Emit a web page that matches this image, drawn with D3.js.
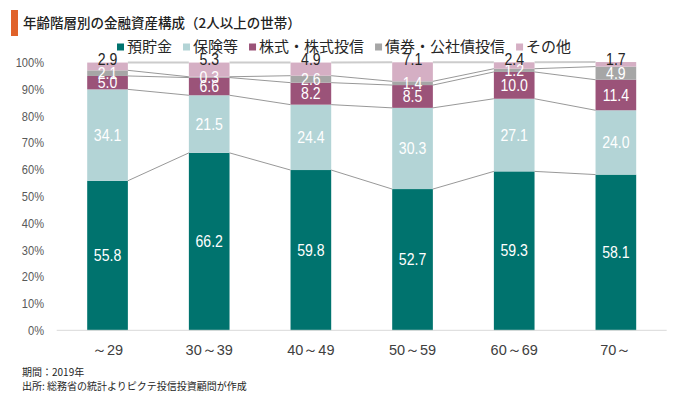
<!DOCTYPE html>
<html>
<head>
<meta charset="utf-8">
<script src="https://cdnjs.cloudflare.com/ajax/libs/d3/7.8.5/d3.min.js"></script>
<style>
body { margin: 0; background: #fff; }
svg { display: block; }
</style>
</head>
<body>
<svg class="s1" width="680" height="397"></svg>
<script>
	// data
	var ages = ["～29", "30～39", "40～49", "50～59", "60～69", "70～"];
	var seriesNames = ["預貯金", "保険等", "株式・株式投信", "債券・公社債投信", "その他"];
	var deposits = [55.8, 66.2, 59.8, 52.7, 59.3, 58.1];
	var insurance = [34.1, 21.5, 24.4, 30.3, 27.1, 24.0];
	var stocks = [5.0, 6.6, 8.2, 8.5, 10.0, 11.4];
	var bonds = [2.1, 0.3, 2.6, 1.4, 1.2, 4.9];
	var others = [2.9, 5.3, 4.9, 7.1, 2.4, 1.7];
	var yTicks = [0, 10, 20, 30, 40, 50, 60, 70, 80, 90, 100];
	var colors = ["#00736e", "#b3d4d6", "#9b5379", "#a6a6a6", "#d5afc4"];

	var title = "年齢階層別の金融資産構成（2人以上の世帯）";
	var notes = ["期間：2019年", "出所: 総務省の統計よりピクテ投信投資顧問が作成"];

	var numFont = "'Liberation Sans', Arial, sans-serif";
	var jpFont = "'Noto Sans CJK JP', 'Noto Sans', sans-serif";

	// squeeze text horizontally (the original uses a narrow face)
	function condense(sel, f) {
		sel.each(function() {
			var w = this.getComputedTextLength();
			d3.select(this).attr("textLength", w * f).attr("lengthAdjust", "spacingAndGlyphs");
		});
	}

	var svg = d3.select("svg.s1");

	var seriesValues = [deposits, insurance, stocks, bonds, others];
	var rows = ages.map(function(a, i) {
		var r = {age: a};
		seriesNames.forEach(function(s, j) { r[s] = seriesValues[j][i]; });
		return r;
	});

	var stack = d3.stack().keys(seriesNames);
	var layers = stack(rows);

	var x = d3.scaleBand().domain(ages).range([56.7, 666.7]).paddingInner(0.6).paddingOuter(0.3);
	var y = d3.scaleLinear().domain([0, 100]).range([330.3, 62.3]);
	var z = d3.scaleOrdinal().domain(seriesNames).range(colors);

	// title
	svg.append("rect").attr("x", 11).attr("y", 10).attr("width", 7).attr("height", 26).attr("fill", "#e0622a");
	svg.append("text")
		.attr("x", 23).attr("y", 28)
		.style("font", "500 13.5px " + jpFont)
		.attr("fill", "#222")
		.text(title);

	// legend
	var lx = 117;
	seriesNames.forEach(function(s) {
		svg.append("rect").attr("x", lx).attr("y", 43.5).attr("width", 7).attr("height", 7).attr("fill", z(s));
		var t = svg.append("text")
			.attr("x", lx + 10).attr("y", 47)
			.attr("dy", "0.35em")
			.style("font", "15px " + jpFont)
			.attr("fill", "#262626")
			.text(s);
		lx += 10 + t.node().getComputedTextLength() + 11;
	});

	// y axis labels
	svg.append("g").selectAll("text")
		.data(yTicks).enter().append("text")
		.attr("x", 44)
		.attr("y", function(d) { return y(d); })
		.attr("dy", "0.35em")
		.attr("text-anchor", "end")
		.style("font", "13.5px " + numFont)
		.attr("fill", "#595959")
		.text(function(d) { return d + "%"; })
		.call(condense, 0.82);

	// bars
	var g = svg.append("g");
	g.selectAll("g.layer")
		.data(layers).enter().append("g")
		.attr("class", "layer")
		.attr("fill", function(d) { return z(d.key); })
		.selectAll("rect")
		.data(function(d) { return d; })
		.enter().append("rect")
		.attr("x", function(d) { return x(d.data.age); })
		.attr("y", function(d) { return y(d[1]); })
		.attr("width", x.bandwidth())
		.attr("height", function(d) { return y(d[0]) - y(d[1]); });

	// connector lines between bars
	layers.forEach(function(layer, li) {
		var top = li == layers.length - 1;
		for (var i = 0; i < layer.length - 1; i++) {
			g.append("line")
				.attr("x1", x(ages[i]) + x.bandwidth())
				.attr("y1", y(layer[i][1]))
				.attr("x2", x(ages[i + 1]))
				.attr("y2", y(layer[i + 1][1]))
				.attr("stroke", top ? "#cccccc" : "#8c8c8c")
				.attr("stroke-width", top ? 2 : 0.9);
		}
	});

	// baseline
	svg.append("line")
		.attr("x1", 56.7).attr("x2", 666.7)
		.attr("y1", y(0)).attr("y2", y(0))
		.attr("stroke", "#d9d9d9").attr("stroke-width", 1);

	// value labels
	layers.forEach(function(layer, li) {
		var last = li == layers.length - 1;
		g.selectAll("text.v" + li)
			.data(layer).enter().append("text")
			.attr("class", "v" + li)
			.attr("x", function(d) { return x(d.data.age) + x.bandwidth() / 2; })
			.attr("y", function(d) { return last ? y(100) - 3 : y((d[0] + d[1]) / 2); })
			.attr("dy", "0.35em")
			.attr("text-anchor", "middle")
			.style("font", "16px " + numFont)
			.attr("fill", last ? "#262626" : "#ffffff")
			.text(function(d) { return (d[1] - d[0]).toFixed(1); })
			.call(condense, 0.88);
	});

	// x labels
	svg.append("g").selectAll("text")
		.data(ages).enter().append("text")
		.attr("x", function(d) { return x(d) + x.bandwidth() / 2; })
		.attr("y", 350)
		.attr("dy", "0.35em")
		.attr("text-anchor", "middle")
		.style("font", "14.5px " + numFont)
		.attr("fill", "#404040")
		.text(function(d) { return d; });

	// notes
	svg.append("g").selectAll("text")
		.data(notes).enter().append("text")
		.attr("x", 22)
		.attr("y", function(d, i) { return 372 + i * 14.5; })
		.attr("dy", "0.35em")
		.style("font", "10px " + jpFont)
		.attr("fill", "#262626")
		.text(function(d) { return d; });
</script>
</body>
</html>
